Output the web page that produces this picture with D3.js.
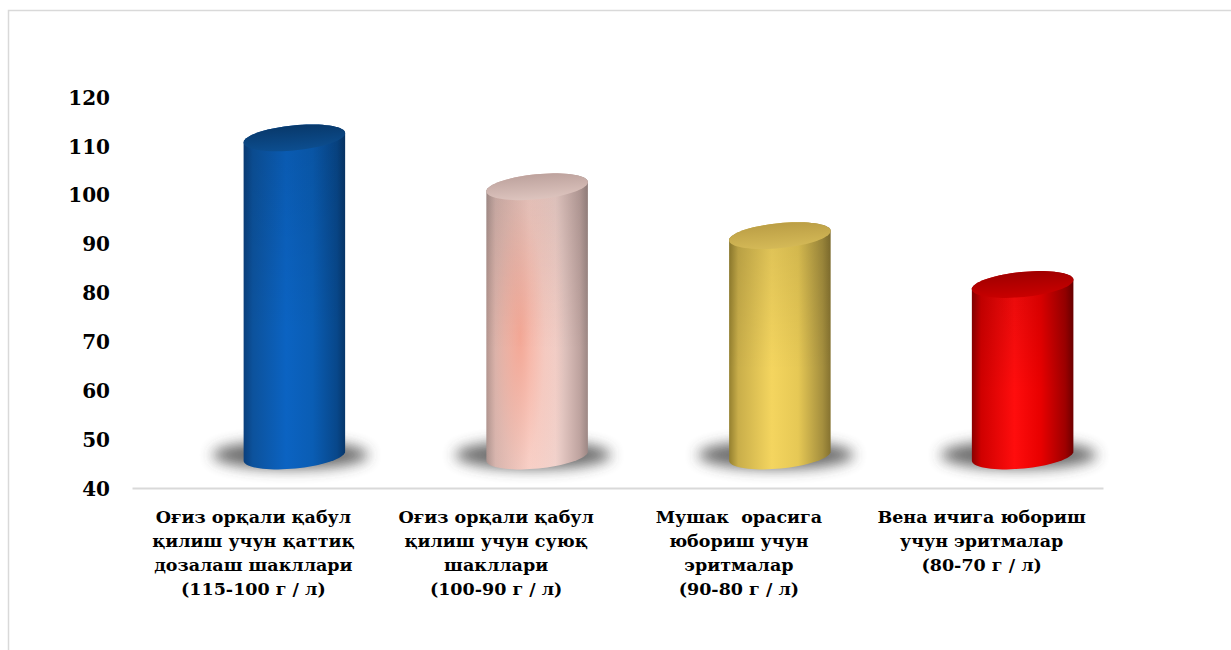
<!DOCTYPE html>
<html>
<head>
<meta charset="utf-8">
<script src="https://cdn.jsdelivr.net/npm/d3@7"></script>
<style>
  html, body { margin: 0; padding: 0; background: #ffffff; }
  svg { display: block; }
  text { font-family: "DejaVu Serif", "Liberation Serif", serif; font-weight: bold; fill: #000; }
</style>
</head>
<body>
<svg id="chart" width="1231" height="650"></svg>
<script>
// ---- data ----
const categories = [
  "Оғиз орқали қабул\nқилиш учун қаттиқ\nдозалаш шакллари\n(115-100 г / л)",
  "Оғиз орқали қабул\nқилиш учун суюқ\nшакллари\n(100-90 г / л)",
  "Мушак  орасига\nюбориш учун\nэритмалар\n(90-80 г / л)",
  "Вена ичига юбориш\nучун эритмалар\n(80-70 г / л)"
];
const values = [110, 100, 90, 80];
const yTicks = [40, 50, 60, 70, 80, 90, 100, 110, 120];

// ---- palette (style) ----
const palettes = [
  { body: ["#0a3f7c", "#0c529c", "#0b63c2", "#0a5db4", "#08478a", "#06366a"], top: ["#083768", "#0c4f92"], glow: null },
  { body: ["#a8938f", "#d2b8b3", "#f9ddd7", "#f1d3cd", "#bea39f", "#9c8784"], top: ["#bba09b", "#dfc6c0"], glow: "#f5a08c" },
  { body: ["#94802f", "#c9ae4a", "#f4d55f", "#e6c855", "#a58f3e", "#857230"], top: ["#b99c44", "#d6bb58"], glow: null },
  { body: ["#8a0000", "#cf0000", "#ff0d0d", "#e80000", "#9e0000", "#6e0000"], top: ["#9c0000", "#cc0000"], glow: null }
];

const svg = d3.select("#chart");
const W = 1231, H = 650;
const plot = { left: 132, right: 1103, top: 97, bottom: 488 };

// chart area border
svg.append("rect")
  .attr("x", 8.5).attr("y", 10.5)
  .attr("width", W + 20).attr("height", H + 20)
  .attr("fill", "none").attr("stroke", "#d9d9d9").attr("stroke-width", 1.5);

const x = d3.scaleBand().domain(d3.range(categories.length)).range([plot.left, plot.right]).padding(0);
const y = d3.scaleLinear().domain([40, 120]).range([plot.bottom, plot.top]);

// defs
const defs = svg.append("defs");
const blur = defs.append("filter").attr("id", "shadowBlur")
  .attr("x", "-50%").attr("y", "-150%").attr("width", "200%").attr("height", "400%");
blur.append("feGaussianBlur").attr("stdDeviation", 7);

const vshade = defs.append("linearGradient").attr("id", "vshade").attr("x1", 0).attr("x2", 0).attr("y1", 0).attr("y2", 1);
vshade.append("stop").attr("offset", 0).attr("stop-color", "#000").attr("stop-opacity", 0.10);
vshade.append("stop").attr("offset", 0.6).attr("stop-color", "#000").attr("stop-opacity", 0.0);
vshade.append("stop").attr("offset", 1).attr("stop-color", "#000").attr("stop-opacity", 0.0);

const bodyOffsets = [0, 0.09, 0.42, 0.68, 0.92, 1];
palettes.forEach((p, i) => {
  const g = defs.append("linearGradient").attr("id", "body" + i).attr("x1", 0).attr("x2", 1).attr("y1", 0).attr("y2", 0);
  p.body.forEach((c, k) => g.append("stop").attr("offset", bodyOffsets[k]).attr("stop-color", c));
  const t = defs.append("linearGradient").attr("id", "top" + i).attr("x1", 0.35).attr("x2", 0.6).attr("y1", 0).attr("y2", 1);
  t.append("stop").attr("offset", 0).attr("stop-color", p.top[0]);
  t.append("stop").attr("offset", 1).attr("stop-color", p.top[1]);
  if (p.glow) {
    const r = defs.append("radialGradient").attr("id", "glow" + i)
      .attr("cx", 0.33).attr("cy", 0.55).attr("r", 0.5)
      .attr("gradientTransform", "translate(0.33,0.55) scale(0.9,1.6) translate(-0.33,-0.55)");
    r.append("stop").attr("offset", 0).attr("stop-color", p.glow).attr("stop-opacity", 0.85);
    r.append("stop").attr("offset", 0.55).attr("stop-color", p.glow).attr("stop-opacity", 0.25);
    r.append("stop").attr("offset", 1).attr("stop-color", p.glow).attr("stop-opacity", 0);
  }
});

// y axis
const yAxis = svg.append("g")
  .attr("transform", `translate(${plot.left},0)`)
  .call(d3.axisLeft(y).tickValues(yTicks).tickSize(0).tickPadding(22));
yAxis.select(".domain").remove();
yAxis.selectAll("text")
  .style("font-family", '"DejaVu Serif", serif').style("font-weight", "bold")
  .style("font-size", "20px").attr("fill", "#000").attr("dy", "0.36em");

// x axis
const xAxis = svg.append("g")
  .attr("transform", `translate(0,${plot.bottom})`)
  .call(d3.axisBottom(x).tickSize(0).tickFormat(""));
xAxis.select(".domain").attr("stroke", "#d9d9d9").attr("stroke-width", 2);

// category labels
const lab = svg.append("g");
categories.forEach((c, i) => {
  const t = lab.append("text")
    .attr("x", x(i) + x.bandwidth() / 2)
    .attr("y", 523)
    .attr("text-anchor", "middle")
    .style("font-size", "17.5px")
    .style("white-space", "pre");
  c.split("\n").forEach((line, k) => {
    t.append("tspan").attr("x", x(i) + x.bandwidth() / 2).attr("dy", k === 0 ? 0 : 24).text(line);
  });
});

// cylinders
const depthDx = 41, topDy = -8, baseDy = -32;
const barW = 102, rx = barW / 2, ry = 12.5, theta = -5.6 * Math.PI / 180;
function ept(cx, cy, t) {
  return [cx + rx * Math.cos(t) * Math.cos(theta) - ry * Math.sin(t) * Math.sin(theta),
          cy + rx * Math.cos(t) * Math.sin(theta) + ry * Math.sin(t) * Math.cos(theta)];
}
function ellipsePath(cx, cy) {
  const pts = d3.range(0, 73).map(k => ept(cx, cy, k / 72 * 2 * Math.PI));
  return d3.line()(pts) + "Z";
}
function bodyPath(cx, yt, yb) {
  const pts = [];
  for (let k = 0; k <= 36; k++) pts.push(ept(cx, yb, Math.PI - k / 36 * Math.PI));
  for (let k = 0; k <= 36; k++) pts.push(ept(cx, yt, -k / 36 * Math.PI));
  return d3.line()(pts) + "Z";
}

const bars = svg.append("g");
values.forEach((v, i) => {
  const cx = x(i) + x.bandwidth() / 2 + depthDx;
  const yt = y(v) + topDy;
  const yb = y(40) + baseDy;
  const g = bars.append("g");
  g.append("ellipse")
    .attr("cx", cx - 4).attr("cy", yb - 1)
    .attr("rx", 78).attr("ry", 14)
    .attr("fill", "#3a3a3a").attr("opacity", 0.75)
    .attr("filter", "url(#shadowBlur)");
  g.append("path").attr("d", bodyPath(cx, yt, yb)).attr("fill", `url(#body${i})`);
  if (palettes[i].glow) {
    g.append("path").attr("d", bodyPath(cx, yt, yb)).attr("fill", `url(#glow${i})`);
  }
  g.append("path").attr("d", bodyPath(cx, yt, yb)).attr("fill", "url(#vshade)");
  g.append("path").attr("d", ellipsePath(cx, yt)).attr("fill", `url(#top${i})`);
});
</script>
</body>
</html>
